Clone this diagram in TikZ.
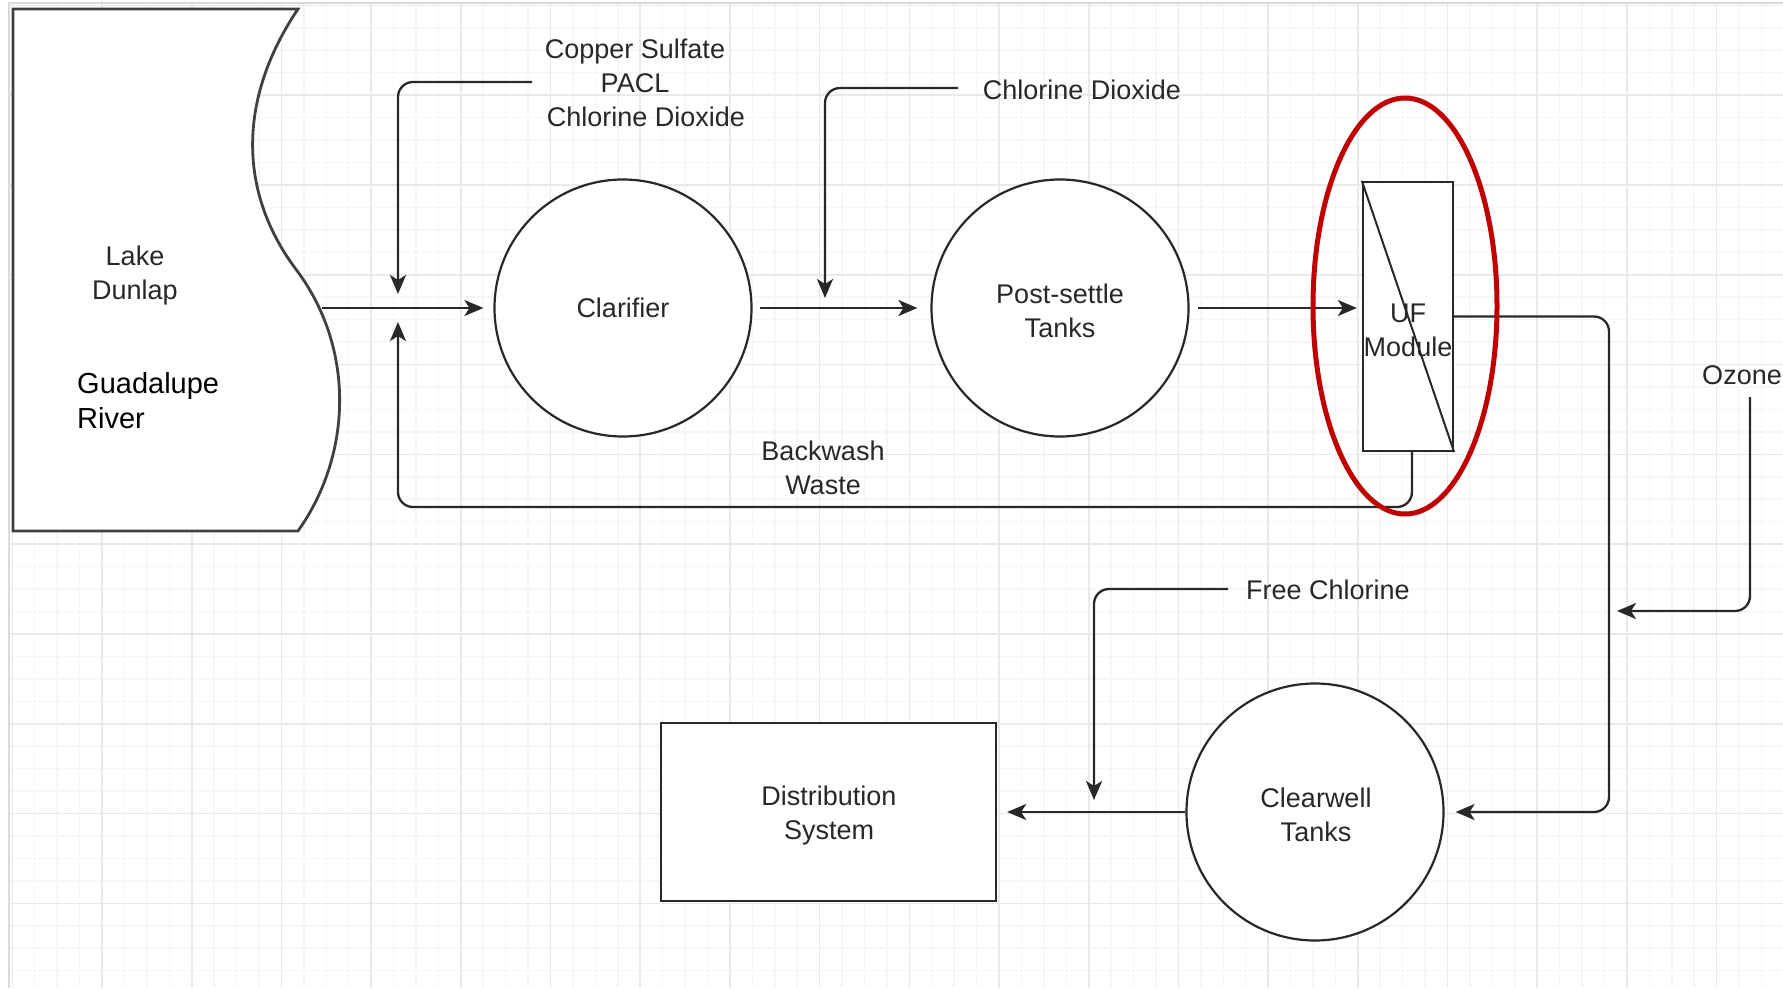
\documentclass[tikz,border=0pt]{standalone}
\usepackage{fontspec}
\setmainfont{Liberation Sans}
\usetikzlibrary{arrows.meta,shapes.geometric}
\definecolor{linec}{RGB}{40,40,40}
\definecolor{txtc}{RGB}{40,40,40}
\definecolor{gridminor}{RGB}{246,246,246}
\definecolor{gridmajor}{RGB}{233,233,233}
\definecolor{borderc}{RGB}{218,218,218}
\definecolor{hlred}{RGB}{192,0,0}
\tikzset{
  conn/.style={draw=linec, line width=2.3pt, rounded corners=15pt},
  arr/.style={conn, -{Stealth[length=19pt,width=16pt,inset=5pt]}},
  circbox/.style={circle, draw=linec, line width=2.2pt, fill=white, minimum size=257pt, inner sep=0pt,
    text=txtc, font=\fontsize{27}{34}\selectfont, align=center},
  rectbox/.style={rectangle, draw=linec, line width=2.3pt, fill=white, inner sep=0pt,
    text=txtc, font=\fontsize{27}{34}\selectfont, align=center},
  lbl/.style={text=txtc, font=\fontsize{27}{34}\selectfont, align=center, inner sep=0pt},
}
\begin{document}
\begin{tikzpicture}[x=1pt,y=-1pt]
\useasboundingbox (0,0) rectangle (1783,988);
\fill[white] (0,0) rectangle (1783,988);
% grid
\foreach \i in {0,...,79} {
  \draw[gridminor, line width=1.5pt] ({12.3+22.425*\i},3) -- ({12.3+22.425*\i},988);
}
\foreach \i in {0,...,44} {
  \draw[gridminor, line width=1.5pt] (9,{5.3+22.45*\i}) -- (1783,{5.3+22.45*\i});
}
\foreach \i in {0,...,19} {
  \draw[gridmajor, line width=1.6pt] ({12.3+89.7*\i},3) -- ({12.3+89.7*\i},988);
}
\foreach \i in {0,...,10} {
  \draw[gridmajor, line width=1.6pt] (9,{5.3+89.8*\i}) -- (1783,{5.3+89.8*\i});
}
\draw[borderc, line width=1.5pt] (9,988) -- (9,3) -- (1783,3);

% lake / river shape
\draw[draw=black!75, line width=2.8pt, fill=white]
  (13,9) -- (298,9) .. controls (240,95) and (235,190) .. (298,272)
  .. controls (355,350) and (352,455) .. (298,531) -- (13,531) -- cycle;
\node[lbl] (lake) at (135,276) {Lake\\Dunlap};
\node[text=black, font=\fontsize{29}{35}\selectfont, align=left, anchor=west, inner sep=0pt] (river) at (77,401) {Guadalupe\\River};
\coordinate (lakeE) at (322,308);

% process nodes
\node[circbox] (clar) at (623,308) {Clarifier};
\node[circbox] (post) at (1060,308) {};
\node[lbl] (posttxt) at (1060,311) {Post-settle\\Tanks};
\node[rectbox, minimum width=90pt, minimum height=269pt] (uf) at (1408,316.5) {};
\draw[linec, line width=2pt] (uf.north west) -- (uf.south east);
\node[lbl] (uftxt) at (1408,330) {UF\\Module};
\node[circbox] (clear) at (1315,812) {};
\node[lbl] (cleartxt) at (1316,815) {Clearwell\\Tanks};
\node[rectbox, minimum width=335pt, minimum height=178pt] (dist) at (828.5,812) {};
\node[lbl] (disttxt) at (829,816) {Distribution\\System};

% labels
\node[lbl] (chem1) at (635,83) {Copper Sulfate\\PACL\\\hspace*{22pt}Chlorine Dioxide};
\node[lbl] (chem2) at (1082,90) {Chlorine Dioxide};
\node[lbl] (bwlbl) at (823,468) {Backwash\\Waste};
\node[lbl] (fclbl) at (1328,590) {Free Chlorine};
\node[lbl] (ozlbl) at (1742,375) {Ozone};

% coordinates
\coordinate (feed1) at (532,82);
\coordinate (j1top) at (398,294);
\coordinate (j1bot) at (398,322);
\coordinate (bwcorner) at (398,507);
\coordinate (ufbot) at (1412,451);
\coordinate (feed2) at (958,88);
\coordinate (j2top) at (825,298);
\coordinate (ufright) at (1609,812);
\coordinate (ozstart) at (1750,397);
\coordinate (ozend) at (1617,611);
\coordinate (feed3) at (1228,589);
\coordinate (j3top) at (1094,800);

% connectors
\draw[arr, shorten >=10pt] (lakeE) -- (clar.west);
\draw[arr] (feed1) -| (j1top);
\draw[arr] (ufbot) |- (bwcorner) -- (j1bot);
\draw[arr, shorten <=7pt, shorten >=13pt] (clar.east) -- (post.west);
\draw[arr] (feed2) -| (j2top);
\draw[arr, shorten <=8pt, shorten >=5pt] (post.east) -- (post.east -| uf.west);
\draw[arr, shorten >=11pt] (uf.east) -| (ufright) -- (clear.east);
\draw[arr] (ozstart) |- (ozend);
\draw[arr, shorten >=10pt] (clear.west) -- (dist.east);
\draw[arr] (feed3) -| (j3top);

% highlight
\node[ellipse, draw=hlred, line width=5pt, minimum width=184pt, minimum height=416pt, inner sep=0pt] (hl) at (1405,306) {};
\end{tikzpicture}
\end{document}
